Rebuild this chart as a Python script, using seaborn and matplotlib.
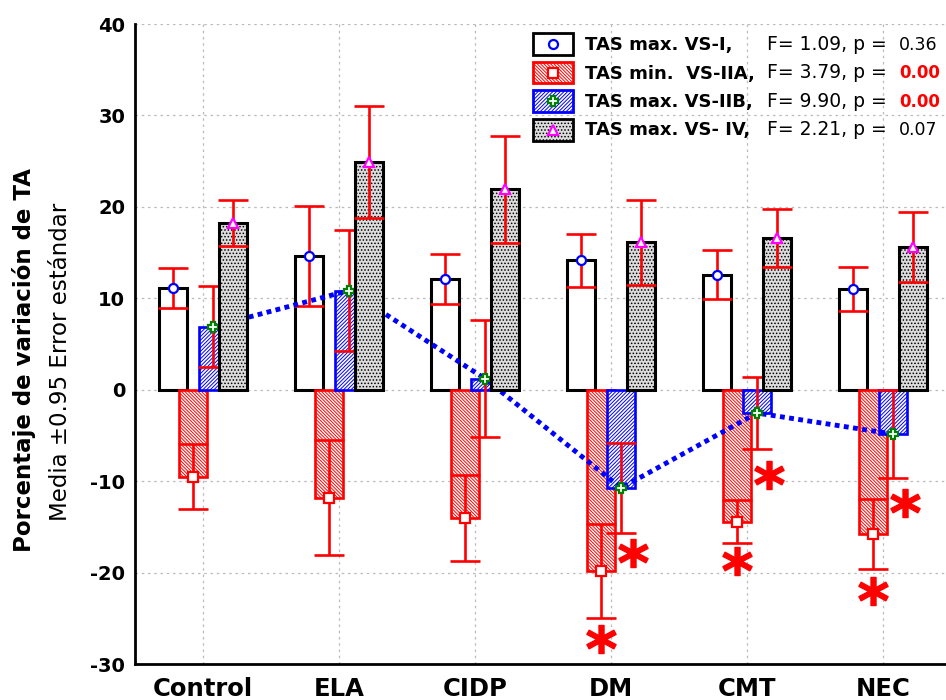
import numpy as np
import pandas as pd
import matplotlib
matplotlib.use("Agg")
import matplotlib.pyplot as plt
import seaborn as sns
from matplotlib.patches import Rectangle
from matplotlib.lines import Line2D

# ---------------- data ----------------
groups = ["Control", "ELA", "CIDP", "DM", "CMT", "NEC"]
series_names = ["TAS max. VS-I,", "TAS min.  VS-IIA,", "TAS max. VS-IIB,", "TAS max. VS- IV,"]
stats_text = ["F= 1.09, p = ", "F= 3.79, p = ", "F= 9.90, p = ", "F= 2.21, p = "]
p_values = ["0.36", "0.00", "0.00", "0.07"]
p_signif = [False, True, True, False]

vs_i_mean = [11.15, 14.65, 12.1, 14.15, 12.6, 11.05]
vs_i_err = [2.2, 5.45, 2.7, 2.9, 2.7, 2.4]
vs_iia_mean = [-9.5, -11.8, -14.0, -19.85, -14.45, -15.8]
vs_iia_err = [3.6, 6.3, 4.7, 5.15, 2.35, 3.8]
vs_iib_mean = [6.9, 10.85, 1.2, -10.75, -2.55, -4.85]
vs_iib_err = [4.4, 6.65, 6.4, 4.95, 3.95, 4.85]
vs_iv_mean = [18.2, 24.9, 21.9, 16.15, 16.6, 15.6]
vs_iv_err = [2.5, 6.1, 5.9, 4.65, 3.2, 3.8]

star_iia_y = [np.nan, np.nan, np.nan, -27.3, -18.7, -22.0]
star_iib_y = [np.nan, np.nan, np.nan, -17.9, -9.35, -12.4]

yticks = [-30, -20, -10, 0, 10, 20, 30, 40]

means = [vs_i_mean, vs_iia_mean, vs_iib_mean, vs_iv_mean]
errs = [vs_i_err, vs_iia_err, vs_iib_err, vs_iv_err]

# ---------------- styles ----------------
face = ["white", "white", "white", "#dcdcdc"]
edge = ["black", "#ff0000", "#0000ff", "black"]
hatch = [None, "\\" * 10, "/" * 9, "....."]
edge_lw = [2.2, 1.9, 1.9, 2.2]
mk = ["o", "s", "P", "^"]
mk_col = ["#0000ff", "#ff0000", "#008000", "#ff00ff"]
zbase = [1, 2, 3, 4]

rows = []
for s, name in enumerate(series_names):
    for g, grp in enumerate(groups):
        rows.append({"grupo": grp, "serie": name, "valor": means[s][g]})
df = pd.DataFrame(rows)

sns.set_theme(style="white")
plt.rcParams["font.family"] = ["DejaVu Sans"]
plt.rcParams["hatch.linewidth"] = 0.7
for k in ["text.color", "axes.labelcolor", "xtick.color", "ytick.color", "axes.edgecolor"]:
    plt.rcParams[k] = "black"

fig = plt.figure(figsize=(9.46, 7), dpi=100)
W, H = 946.0, 700.0
ax = fig.add_axes([135 / W, 36 / H, 816 / W, 640 / H])

sns.barplot(data=df, x="grupo", y="valor", hue="serie", order=groups,
            hue_order=series_names, width=0.59, dodge=True, errorbar=None,
            legend=False, palette=face, saturation=1, ax=ax)

bar_w = 0.21
centers = []
for s, cont in enumerate(ax.containers):
    cs = []
    for p in cont:
        c = p.get_x() + p.get_width() / 2
        p.set_x(c - bar_w / 2)
        p.set_width(bar_w)
        p.set_facecolor(face[s])
        p.set_edgecolor(edge[s])
        p.set_linewidth(edge_lw[s])
        if hatch[s]:
            p.set_hatch(hatch[s])
        p.set_zorder(zbase[s])
        cs.append(c)
    centers.append(cs)

for s in range(4):
    ax.errorbar(centers[s], means[s], yerr=errs[s], fmt="none", ecolor="#ff0000",
                elinewidth=1.9, capsize=10.8, capthick=1.9, zorder=zbase[s] + 0.2)
    ax.plot(centers[s], means[s], ls="none", marker=mk[s], ms=6.5, mfc="white",
            mec=mk_col[s], mew=1.6, zorder=zbase[s] + 0.6)

# dotted connecting line for VS-IIB
ax.plot(centers[2], vs_iib_mean, color="#0000ff", lw=3.5, ls=(0, (1.0, 0.9)),
        zorder=3.4)

# asterisks
ax.plot(centers[1], star_iia_y, ls="none", marker=r"$\mathbf{*}$", ms=21,
        color="#ff0000", zorder=6)
ax.plot(np.array(centers[2]) + 0.09, star_iib_y, ls="none", marker=r"$\mathbf{*}$",
        ms=21, color="#ff0000", zorder=6)

# axes
ax.set_xlim(-0.5, 5.5)
ax.set_ylim(-30, 40)
ax.set_yticks(yticks)
ax.set_yticklabels([str(t) for t in yticks], fontsize=14, fontweight="bold")
ax.set_xticks(range(len(groups)))
ax.set_xticklabels(groups, fontsize=17.5, fontweight="bold")
ax.set_xlabel("")
ax.set_ylabel("")
ax.set_axisbelow(True)
ax.grid(True, axis="both", color="#bbbbbb", lw=0.9, ls=(0, (2, 3)))
for side in ["top", "right"]:
    ax.spines[side].set_visible(False)
for side in ["left", "bottom"]:
    ax.spines[side].set_color("black")
    ax.spines[side].set_linewidth(2)
ax.tick_params(axis="both", direction="in", length=4, width=1.5, colors="black")
ax.tick_params(axis="y", pad=7)
ax.tick_params(axis="x", pad=9)
ax.set_facecolor("white")

fig.text(24 / W, 1 - 360 / H, "Porcentaje de variación de TA", rotation=90,
         ha="center", va="center", fontsize=16.5, fontweight="bold", color="black")
fig.text(61 / W, 1 - 362 / H, "Media ±0.95 Error estándar", rotation=90,
         ha="center", va="center", fontsize=16.5, color="black")

# manual legend
patch_c = [44, 72.5, 101, 130]
base_y = [50, 78.5, 106.7, 135.3]
for i in range(4):
    rc = Rectangle((533 / W, 1 - (patch_c[i] + 10.5) / H), 40 / W, 21 / H,
                   transform=fig.transFigure, facecolor=face[i], edgecolor=edge[i],
                   lw=2, hatch=hatch[i])
    fig.add_artist(rc)
    fig.add_artist(Line2D([553 / W], [1 - patch_c[i] / H], transform=fig.transFigure,
                          marker=mk[i], ms=6.5, mfc="white", mec=mk_col[i], mew=1.6))
    fig.text(585 / W, 1 - base_y[i] / H, series_names[i], fontsize=13,
             fontweight="bold", va="baseline", ha="left", color="black")
    fig.text(767 / W, 1 - base_y[i] / H, stats_text[i], fontsize=13.5,
             va="baseline", ha="left", color="black")
    fig.text(899 / W, 1 - base_y[i] / H, p_values[i],
             fontsize=12 if p_signif[i] else 12.5,
             va="baseline", ha="left",
             color="#ff0000" if p_signif[i] else "black",
             fontweight="bold" if p_signif[i] else "normal")

fig.savefig("out.png", dpi=100, facecolor="white")
